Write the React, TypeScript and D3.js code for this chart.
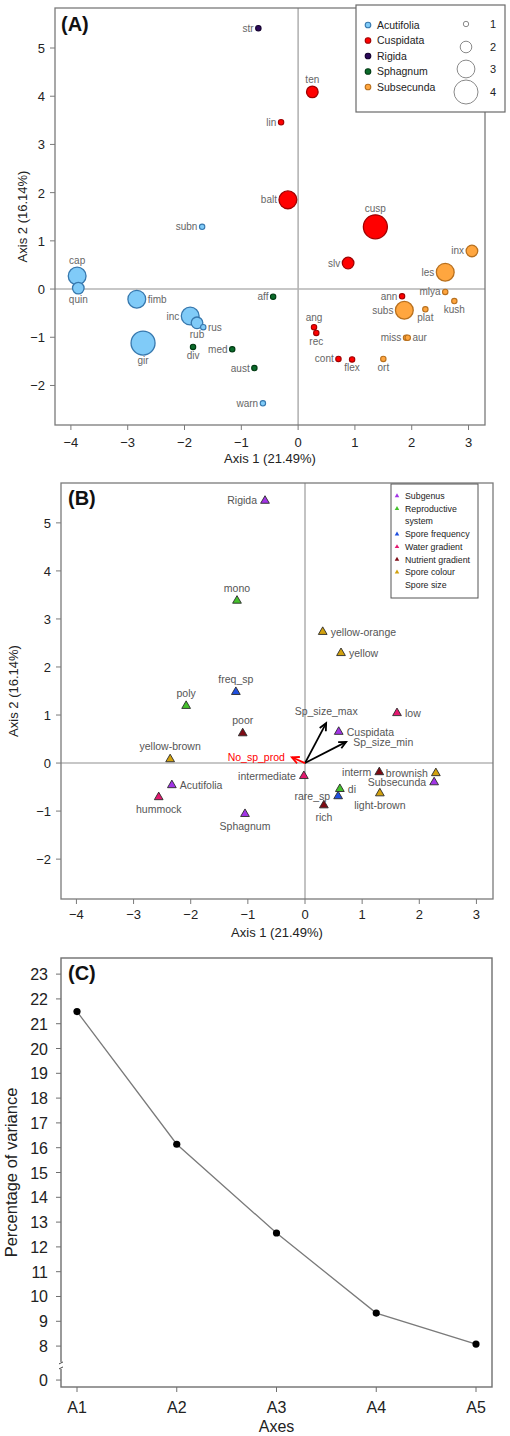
import React from 'react';
import * as d3 from 'd3';

// ---------- Panel A data ----------
const groupsA = ['Acutifolia', 'Cuspidata', 'Rigida', 'Sphagnum', 'Subsecunda'];
const fillA = ['#80CBF8', '#FF0000', '#2B0A5A', '#0B6B2B', '#FFA63F'];
const strokeA = ['#3778AE', '#A00000', '#14002E', '#003A12', '#B8701E'];

const namesA = ['cap', 'quin', 'fimb', 'gir', 'inc', 'rub', 'rus', 'subn', 'warn',
  'ten', 'lin', 'balt', 'cusp', 'slv', 'ann', 'ang', 'rec', 'cont', 'flex',
  'str',
  'aff', 'div', 'med', 'aust',
  'inx', 'les', 'mlya', 'kush', 'subs', 'plat', 'miss', 'aur', 'ort'];
const axis1A = [-3.89, -3.87, -2.84, -2.73, -1.90, -1.78, -1.67, -1.69, -0.62,
  0.25, -0.30, -0.18, 1.36, 0.88, 1.83, 0.28, 0.32, 0.71, 0.95,
  -0.70,
  -0.44, -1.85, -1.16, -0.77,
  3.06, 2.59, 2.59, 2.75, 1.87, 2.24, 1.90, 1.93, 1.50];
const axis2A = [0.27, 0.02, -0.21, -1.12, -0.56, -0.70, -0.79, 1.29, -2.37,
  4.09, 3.46, 1.85, 1.29, 0.54, -0.15, -0.79, -0.91, -1.45, -1.46,
  5.41,
  -0.16, -1.20, -1.25, -1.64,
  0.79, 0.35, -0.06, -0.25, -0.44, -0.42, -1.01, -1.01, -1.45];
const groupOfA = [0, 0, 0, 0, 0, 0, 0, 0, 0,
  1, 1, 1, 1, 1, 1, 1, 1, 1, 1,
  2,
  3, 3, 3, 3,
  4, 4, 4, 4, 4, 4, 4, 4, 4];
const sizeOfA = [3, 2, 3, 4, 3, 2, 1, 1, 1,
  2, 1, 3, 4, 2, 1, 1, 1, 1, 1,
  1,
  1, 1, 1, 1,
  2, 3, 1, 1, 3, 1, 1, 1, 1];
const labelPosA = ['above', 'below', 'right', 'below', 'left', 'below', 'right', 'left', 'left',
  'above', 'left', 'left', 'above', 'left', 'left', 'above', 'below', 'left', 'below',
  'left',
  'left', 'below', 'left', 'left',
  'left', 'left', 'left', 'below', 'left', 'below', 'left', 'right', 'below'];
const sizeLegendValues = [1, 2, 3, 4];
const ticksX = [-4, -3, -2, -1, 0, 1, 2, 3];
const ticksY = [-2, -1, 0, 1, 2, 3, 4, 5];

// ---------- Panel B data ----------
const categoriesB = ['Subgenus', 'Reproductive system', 'Spore frequency', 'Water gradient', 'Nutrient gradient', 'Spore colour', 'Spore size'];
const legendLinesB = [['Subgenus'], ['Reproductive', 'system'], ['Spore frequency'], ['Water gradient'], ['Nutrient gradient'], ['Spore colour'], ['Spore size']];
const fillB = ['#A234E6', '#44C12B', '#1F4FE0', '#E3186F', '#7E0A14', '#D2A10E', null];

const namesB = ['Rigida', 'Acutifolia', 'Sphagnum', 'Cuspidata', 'Subsecunda',
  'mono', 'poly', 'di',
  'freq_sp', 'rare_sp',
  'hummock', 'intermediate', 'low',
  'poor', 'interm', 'rich',
  'yellow-orange', 'yellow', 'yellow-brown', 'brownish', 'light-brown'];
const axis1B = [-0.70, -2.33, -1.05, 0.59, 2.26,
  -1.19, -2.08, 0.61,
  -1.21, 0.58,
  -2.56, -0.02, 1.61,
  -1.09, 1.30, 0.33,
  0.31, 0.63, -2.36, 2.29, 1.31];
const axis2B = [5.46, -0.46, -1.06, 0.65, -0.40,
  3.38, 1.19, -0.54,
  1.48, -0.69,
  -0.71, -0.27, 1.04,
  0.62, -0.19, -0.88,
  2.73, 2.29, 0.08, -0.21, -0.63];
const catOfB = [0, 0, 0, 0, 0,
  1, 1, 1,
  2, 2,
  3, 3, 3,
  4, 4, 4,
  5, 5, 5, 5, 5];
const labelPosB = ['left', 'right', 'below', 'right', 'left',
  'above', 'above', 'right',
  'above', 'left',
  'below', 'left', 'right',
  'above', 'left', 'below',
  'right', 'right', 'above', 'left', 'below'];

const arrowNames = ['Sp_size_max', 'Sp_size_min', 'No_sp_prod'];
const arrowAxis1 = [0.37, 0.72, -0.23];
const arrowAxis2 = [0.83, 0.44, 0.12];
const arrowColors = ['#000000', '#000000', '#FF0000'];
const arrowLabelPos = ['above', 'right', 'left'];

// ---------- Panel C data ----------
const axesC = ['A1', 'A2', 'A3', 'A4', 'A5'];
const varianceC = [21.49, 16.14, 12.56, 9.33, 8.08];
const ticksC = [8, 9, 10, 11, 12, 13, 14, 15, 16, 17, 18, 19, 20, 21, 22, 23];

const FONT = 'Liberation Sans, Arial, Helvetica, sans-serif';

function labelProps(pos: string, x: number, y: number, off: number, fs: number) {
  if (pos === 'above') return { x, y: y - off - 1, textAnchor: 'middle' };
  if (pos === 'below') return { x, y: y + off + fs * 0.72, textAnchor: 'middle' };
  if (pos === 'left') return { x: x - off, y: y + fs * 0.35, textAnchor: 'end' };
  return { x: x + off, y: y + fs * 0.35, textAnchor: 'start' };
}

function PanelA() {
  const L = 55, R = 485, T = 8, B = 425;
  const x = d3.scaleLinear().domain([-4.28, 3.29]).range([L, R]);
  const y = d3.scaleLinear().domain([-2.82, 5.83]).range([B, T]);
  const rScale = d3.scaleLinear().domain([1, 4]).range([2.7, 12]);
  const order = d3.range(namesA.length).sort((a, b) => sizeOfA[b] - sizeOfA[a]);
  return (
    <g>
      <line x1={x(0)} x2={x(0)} y1={T} y2={B} stroke="#b4b4b4" strokeWidth={1.6} />
      <line x1={L} x2={R} y1={y(0)} y2={y(0)} stroke="#b4b4b4" strokeWidth={1.6} />
      <rect x={L} y={T} width={R - L} height={B - T} fill="none" stroke="#7a7a7a" strokeWidth={1.3} />
      {ticksX.map(t => (
        <g key={'ax' + t}>
          <line x1={x(t)} x2={x(t)} y1={B} y2={B + 5} stroke="#7a7a7a" />
          <text x={x(t)} y={B + 22} textAnchor="middle" fontSize={13} fill="#222">{t < 0 ? '\u2212' + Math.abs(t) : t}</text>
        </g>
      ))}
      {ticksY.map(t => (
        <g key={'ay' + t}>
          <line x1={L - 5} x2={L} y1={y(t)} y2={y(t)} stroke="#7a7a7a" />
          <text x={L - 10} y={y(t) + 5} textAnchor="end" fontSize={13} fill="#222">{t < 0 ? '\u2212' + Math.abs(t) : t}</text>
        </g>
      ))}
      <text x={(L + R) / 2} y={463} textAnchor="middle" fontSize={13} fill="#222">Axis 1 (21.49%)</text>
      <text transform={`translate(27,${(T + B) / 2}) rotate(-90)`} textAnchor="middle" fontSize={13} fill="#222">Axis 2 (16.14%)</text>
      {order.map(i => (
        <circle key={'pa' + i} cx={x(axis1A[i])} cy={y(axis2A[i])} r={rScale(sizeOfA[i])}
          fill={fillA[groupOfA[i]]} stroke={strokeA[groupOfA[i]]} strokeWidth={sizeOfA[i] > 1 ? 1.3 : 1.1} />
      ))}
      {namesA.map((n, i) => {
        const p = labelProps(labelPosA[i], x(axis1A[i]), y(axis2A[i]), rScale(sizeOfA[i]) + 2, 10);
        return <text key={'la' + i} {...p} fontSize={10} fill="#666">{n}</text>;
      })}
      <text x={61} y={31} fontSize={20} fontWeight="bold" fill="#111">(A)</text>
      {/* legend */}
      <rect x={356} y={5} width={149} height={107} fill="#fff" stroke="#6a6a6a" strokeWidth={1.2} />
      {groupsA.map((g, i) => (
        <g key={'lg' + g}>
          <circle cx={368} cy={25 + i * 15.5} r={2.8} fill={fillA[i]} stroke={strokeA[i]} strokeWidth={1.1} />
          <text x={377} y={25 + i * 15.5 + 3.8} fontSize={10.5} fill="#222">{g}</text>
        </g>
      ))}
      {sizeLegendValues.map((s, i) => {
        const cy = [24, 47, 69, 92][i];
        return (
          <g key={'ls' + s}>
            <circle cx={466} cy={cy} r={rScale(s)} fill="none" stroke="#8a8a8a" strokeWidth={1} />
            <text x={490} y={cy + 4} fontSize={11} fill="#222">{s}</text>
          </g>
        );
      })}
    </g>
  );
}

function triPath(size: number) {
  return d3.symbol().type(d3.symbolTriangle).size(size)() as string;
}

function PanelB() {
  const L = 61, R = 493, T = 483, B = 899;
  const x = d3.scaleLinear().domain([-4.27, 3.29]).range([L, R]);
  const y = d3.scaleLinear().domain([-2.83, 5.83]).range([B, T]);
  const tri = triPath(33);
  const triSmall = triPath(9);
  const x0 = x(0), y0 = y(0);
  let line = 0;
  return (
    <g>
      <line x1={x0} x2={x0} y1={T} y2={B} stroke="#b4b4b4" strokeWidth={1.6} />
      <line x1={L} x2={R} y1={y0} y2={y0} stroke="#b4b4b4" strokeWidth={1.6} />
      <rect x={L} y={T} width={R - L} height={B - T} fill="none" stroke="#7a7a7a" strokeWidth={1.3} />
      {ticksX.map(t => (
        <g key={'bx' + t}>
          <line x1={x(t)} x2={x(t)} y1={B} y2={B + 5} stroke="#7a7a7a" />
          <text x={x(t)} y={B + 20} textAnchor="middle" fontSize={13} fill="#222">{t < 0 ? '\u2212' + Math.abs(t) : t}</text>
        </g>
      ))}
      {ticksY.map(t => (
        <g key={'by' + t}>
          <line x1={L - 5} x2={L} y1={y(t)} y2={y(t)} stroke="#7a7a7a" />
          <text x={L - 10} y={y(t) + 5} textAnchor="end" fontSize={13} fill="#222">{t < 0 ? '\u2212' + Math.abs(t) : t}</text>
        </g>
      ))}
      <text x={(L + R) / 2} y={937} textAnchor="middle" fontSize={13} fill="#222">Axis 1 (21.49%)</text>
      <text transform={`translate(18,${(T + B) / 2}) rotate(-90)`} textAnchor="middle" fontSize={13} fill="#222">Axis 2 (16.14%)</text>
      {/* arrows */}
      {arrowNames.map((n, i) => {
        const x1 = x(arrowAxis1[i]), y1 = y(arrowAxis2[i]);
        const th = Math.atan2(y1 - y0, x1 - x0);
        const h = 8, a = 0.45;
        const hx1 = x1 - h * Math.cos(th - a), hy1 = y1 - h * Math.sin(th - a);
        const hx2 = x1 - h * Math.cos(th + a), hy2 = y1 - h * Math.sin(th + a);
        const p = labelProps(arrowLabelPos[i], x1, y1, 7, 10.5);
        return (
          <g key={'ar' + n}>
            <line x1={x0} y1={y0} x2={x1} y2={y1} stroke={arrowColors[i]} strokeWidth={1.8} />
            <path d={`M${hx1},${hy1}L${x1},${y1}L${hx2},${hy2}`} fill="none" stroke={arrowColors[i]} strokeWidth={1.8} />
            <text {...p} fontSize={10.5} fill={arrowColors[i] === '#FF0000' ? '#FF0000' : '#555'}>{n}</text>
          </g>
        );
      })}
      {namesB.map((n, i) => (
        <path key={'tb' + i} d={tri} transform={`translate(${x(axis1B[i])},${y(axis2B[i])})`}
          fill={fillB[catOfB[i]] as string} stroke="#2a2a2a" strokeWidth={0.9} />
      ))}
      {namesB.map((n, i) => {
        const p = labelProps(labelPosB[i], x(axis1B[i]), y(axis2B[i]), 8, 10.5);
        return <text key={'lb' + i} {...p} fontSize={10.5} fill="#555">{n}</text>;
      })}
      <text x={68} y={505} fontSize={20} fontWeight="bold" fill="#111">(B)</text>
      {/* legend */}
      <rect x={391} y={484} width={87} height={114} fill="#fff" stroke="#555" strokeWidth={1} />
      {categoriesB.map((c, i) => {
        const startLine = line;
        line += legendLinesB[i].length;
        const yy = 496 + startLine * 12.7;
        return (
          <g key={'lgb' + c}>
            {fillB[i] && <path d={triSmall} transform={`translate(397,${yy})`} fill={fillB[i] as string} />}
            {legendLinesB[i].map((t, j) => (
              <text key={t} x={405} y={yy + 3 + j * 12.7} fontSize={8.8} fill="#222">{t}</text>
            ))}
          </g>
        );
      })}
    </g>
  );
}

function PanelC() {
  const L = 61, R = 492, T = 958, B = 1387;
  const x = d3.scalePoint<string>().domain(axesC).range([77, 476]);
  const y = d3.scaleLinear().domain([6.35, 23.65]).range([B, T]);
  const zeroPos = y(6.63);
  const breakPos = y(7.2);
  const lineGen = d3.line<number>().x((_, i) => x(axesC[i]) as number).y(d => y(d));
  return (
    <g>
      <rect x={L} y={T} width={R - L} height={B - T} fill="none" stroke="#6f6f6f" strokeWidth={1.4} />
      {/* axis break */}
      <rect x={L - 3} y={breakPos - 4} width={6} height={7} fill="#fff" />
      <path d={`M${L - 2},${breakPos - 2}L${L + 2},${breakPos - 4}M${L - 2},${breakPos + 3}L${L + 2},${breakPos + 1}`} stroke="#444" strokeWidth={1} fill="none" />
      {ticksC.map(t => (
        <g key={'cy' + t}>
          <line x1={L - 5} x2={L} y1={y(t)} y2={y(t)} stroke="#6f6f6f" />
          <text x={L - 13} y={y(t) + 6} textAnchor="end" fontSize={16} fill="#222">{t}</text>
        </g>
      ))}
      <line x1={L - 5} x2={L} y1={zeroPos} y2={zeroPos} stroke="#6f6f6f" />
      <text x={L - 13} y={zeroPos + 6} textAnchor="end" fontSize={16} fill="#222">0</text>
      {axesC.map(a => (
        <g key={'cx' + a}>
          <line x1={x(a)} x2={x(a)} y1={B} y2={B + 5} stroke="#6f6f6f" />
          <text x={x(a)} y={B + 26} textAnchor="middle" fontSize={16} fill="#222">{a}</text>
        </g>
      ))}
      <text x={(L + R) / 2} y={1432} textAnchor="middle" fontSize={16} fill="#222">Axes</text>
      <text transform={`translate(17,${(T + B) / 2}) rotate(-90)`} textAnchor="middle" fontSize={16.5} fill="#222">Percentage of variance</text>
      <path d={lineGen(varianceC) as string} fill="none" stroke="#7a7a7a" strokeWidth={1.3} />
      {varianceC.map((v, i) => (
        <circle key={'cp' + i} cx={x(axesC[i])} cy={y(v)} r={3.6} fill="#000" />
      ))}
      <text x={68} y={980} fontSize={20} fontWeight="bold" fill="#111">(C)</text>
    </g>
  );
}

export default function App() {
  return (
    <svg width={510} height={1436} viewBox="0 0 510 1436"
      style={{ position: 'absolute', left: 0, top: 0, background: '#fff', fontFamily: FONT }}>
      <rect width={510} height={1436} fill="#fff" />
      <PanelA />
      <PanelB />
      <PanelC />
    </svg>
  );
}
